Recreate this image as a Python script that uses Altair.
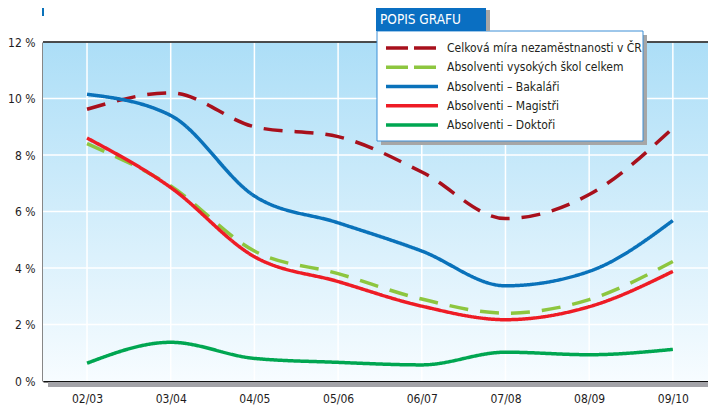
import json
import altair as alt
import pandas as pd

years = ["02/03", "03/04", "04/05", "05/06", "06/07", "07/08", "08/09", "09/10"]
series = [
    "Celková míra nezaměstnanosti v ČR",
    "Absolventi vysokých škol celkem",
    "Absolventi – Bakaláři",
    "Absolventi – Magistři",
    "Absolventi – Doktoři",
]
celkova = [9.62, 10.2, 9.0, 8.65, 7.4, 5.75, 6.6, 8.95]
vs_celkem = [8.4, 6.9, 4.6, 3.8, 2.9, 2.4, 2.88, 4.23]
bakalari = [10.15, 9.4, 6.55, 5.6, 4.6, 3.37, 3.88, 5.68]
magistri = [8.6, 6.85, 4.4, 3.52, 2.65, 2.17, 2.63, 3.88]
doktori = [0.63, 1.37, 0.8, 0.66, 0.57, 1.02, 0.93, 1.12]
y_ticks = [0, 2, 4, 6, 8, 10, 12]
legend_title = "POPIS GRAFU"

colors = ["#a8101c", "#8dc63f", "#0a72ba", "#ee1c25", "#00a651"]
line_dash = [[19, 12], [19, 12], [1, 0], [1, 0], [1, 0]]
legend_dash = [[22, 6], [22, 6], [1, 0], [1, 0], [1, 0]]

FONT = "Liberation Sans Narrow, DejaVu Sans Condensed, Roboto, sans-serif"
W, H = 665, 339

rows = []
for name, vals in zip(series, [celkova, vs_celkem, bakalari, magistri, doktori]):
    for i, v in enumerate(vals):
        rows.append({"i": i, "series": name, "value": v})
df = pd.DataFrame(rows)
one = pd.DataFrame({"a": [0]})
ygrid = pd.DataFrame({"value": y_ticks[1:]})
xgrid = pd.DataFrame({"i": list(range(len(years)))})
leg = pd.DataFrame({"series": series})

xscale = alt.Scale(domain=[-0.526, 7.42], nice=False, zero=False)
yscale = alt.Scale(domain=[0, 12], nice=False, zero=False)
cscale = alt.Scale(domain=series, range=colors)

label_expr = json.dumps(years) + "[datum.value]"
xaxis = alt.Axis(values=list(range(len(years))), labelExpr=label_expr,
                 grid=False, ticks=False, domainColor="#111", domainWidth=2,
                 labelPadding=12, labelFontSize=12, labelColor="#1e1c1d",
                 labelFont=FONT, title=None)
yaxis = alt.Axis(values=y_ticks, labelExpr="datum.value + ' %'",
                 grid=False, ticks=False, domainColor="#111", domainWidth=2,
                 labelPadding=8, labelFontSize=12, labelColor="#1e1c1d",
                 labelFont=FONT, title=None)

bg = alt.Chart(one).mark_rect(
    color=alt.Gradient(
        gradient="linear",
        stops=[alt.GradientStop(color="#acdef7", offset=0),
               alt.GradientStop(color="#f7fcff", offset=1)],
        x1=0, x2=0, y1=0, y2=1,
    )
).encode(x=alt.value(0), x2=alt.value(W), y=alt.value(0), y2=alt.value(H))

hgrid = alt.Chart(ygrid).mark_rule(color="white", strokeWidth=1.5).encode(
    y=alt.Y("value:Q", scale=yscale, axis=yaxis)
)
vgrid = alt.Chart(xgrid).mark_rule(color="white", strokeWidth=1.5).encode(
    x=alt.X("i:Q", scale=xscale, axis=xaxis)
)
shadow = alt.Chart(one).mark_rect(color="#a3a3a8").encode(
    x=alt.value(5), x2=alt.value(W), y=alt.value(H + 1), y2=alt.value(H + 6)
)
topline = alt.Chart(one).mark_rule(color="#111", strokeWidth=1.5).encode(
    x=alt.value(0), x2=alt.value(W), y=alt.value(0)
)

lines = alt.Chart(df).mark_line(interpolate="monotone", strokeWidth=3.5).encode(
    x=alt.X("i:Q", scale=xscale, axis=xaxis),
    y=alt.Y("value:Q", scale=yscale, axis=yaxis),
    color=alt.Color("series:N", scale=cscale, legend=None),
    strokeDash=alt.StrokeDash("series:N", scale=alt.Scale(domain=series, range=line_dash), legend=None),
    order=alt.Order("i:Q"),
)

main = alt.layer(bg, hgrid, vgrid, shadow, topline, lines)

LX, LY, LW, LH = 334, -11, 266, 110
box_shadow = alt.Chart(one).mark_rect(color="#a6a6a6").encode(
    x=alt.value(LX + 4), x2=alt.value(LX + LW + 4), y=alt.value(LY + 4), y2=alt.value(LY + LH + 4)
)
box = alt.Chart(one).mark_rect(fill="white", stroke="#3d8fd6", strokeWidth=1).encode(
    x=alt.value(LX), x2=alt.value(LX + LW), y=alt.value(LY), y2=alt.value(LY + LH)
)
tab_shadow = alt.Chart(one).mark_rect(color="#a6a6a6").encode(
    x=alt.value(LX + 108), x2=alt.value(LX + 113), y=alt.value(LY - 21), y2=alt.value(LY)
)
tab = alt.Chart(one).mark_rect(color="#0a6fc2").encode(
    x=alt.value(LX - 1), x2=alt.value(LX + 109), y=alt.value(LY - 23), y2=alt.value(LY)
)
tab_text = alt.Chart(one).mark_text(
    text=legend_title, color="white", fontSize=13.5, align="left", baseline="middle", font=FONT
).encode(x=alt.value(LX + 3), y=alt.value(LY - 11))

ly = alt.Y("series:N", sort=series,
           scale=alt.Scale(type="point", domain=series, range=[6, 83], padding=0), axis=None)
leg_rules = alt.Chart(leg).mark_rule(strokeWidth=3.5).encode(
    x=alt.value(LX + 9), x2=alt.value(LX + 61), y=ly,
    color=alt.Color("series:N", scale=cscale, legend=None),
    strokeDash=alt.StrokeDash("series:N", scale=alt.Scale(domain=series, range=legend_dash), legend=None),
)
leg_text = alt.Chart(leg).mark_text(
    align="left", baseline="middle", fontSize=12, color="#231f20", font=FONT
).encode(x=alt.value(LX + 70), y=ly, text="series:N")
deco = alt.Chart(one).mark_rule(color="#0a72ba", strokeWidth=2).encode(
    x=alt.value(0), y=alt.value(-34), y2=alt.value(-26)
)

legend_layer = alt.layer(box_shadow, box, tab_shadow, tab, tab_text, leg_rules, leg_text, deco)

chart = alt.layer(main, legend_layer).resolve_scale(
    y="independent", strokeDash="independent"
).properties(
    width=W, height=H,
    autosize=alt.AutoSizeParams(type="none"),
    padding={"left": 35, "top": 34, "right": 0, "bottom": 24},
    background="white",
).configure_view(stroke=None)

chart.save("out.html", embed_options={"renderer": "svg", "actions": False})
